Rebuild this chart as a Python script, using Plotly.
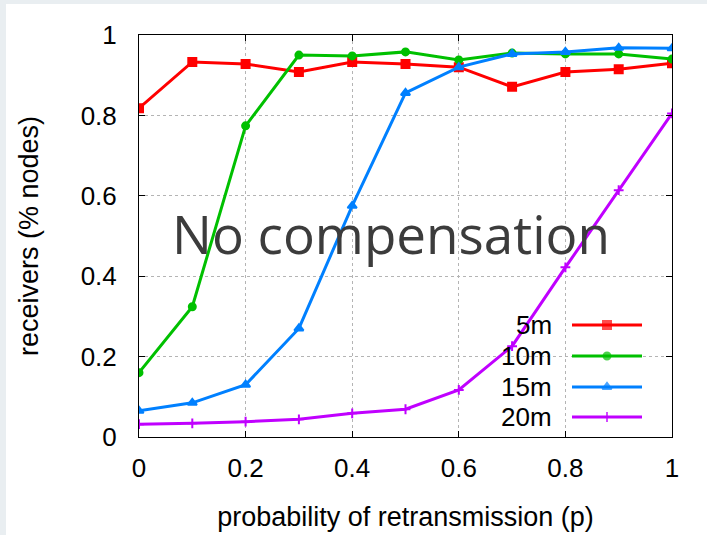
import plotly.graph_objects as go

p = [0, 0.1, 0.2, 0.3, 0.4, 0.5, 0.6, 0.7, 0.8, 0.9, 1.0]
r5 = [0.818, 0.933, 0.928, 0.908, 0.933, 0.928, 0.92, 0.871, 0.908, 0.915, 0.93]
r10 = [0.16, 0.324, 0.774, 0.95, 0.948, 0.958, 0.938, 0.955, 0.953, 0.953, 0.94]
r15 = [0.065, 0.085, 0.13, 0.27, 0.575, 0.856, 0.92, 0.953, 0.958, 0.968, 0.967]
r20 = [0.032, 0.034, 0.038, 0.044, 0.059, 0.069, 0.117, 0.226, 0.422, 0.614, 0.805]
series_names = ["5m", "10m", "15m", "20m"]
colors = ["#ff0000", "#00c000", "#0080ff", "#c000ff"]
symbols = ["square", "circle", "triangle-up", "cross-thin"]
tick_vals = [0, 0.2, 0.4, 0.6, 0.8, 1]
tick_text = ["0", "0.2", "0.4", "0.6", "0.8", "1"]

FONT = "Liberation Sans, Arial, sans-serif"
sizes = {"square": 8, "circle": 7, "triangle-up": 8, "cross-thin": 7}

fig = go.Figure()
for name, ys, c, s in zip(series_names, [r5, r10, r15, r20], colors, symbols):
    fig.add_trace(go.Scatter(
        x=p, y=ys, mode="lines+markers", name=name, showlegend=False,
        line=dict(color=c, width=3),
        marker=dict(color=c, symbol=s, size=sizes[s], line=dict(color=c, width=2)),
    ))

# custom legend (text left of sample) on an overlay axis in pixel units
L, R, T, B = 139, 672, 35, 437
leg_y = [325, 356, 387, 417]
for name, c, s, yy in zip(series_names, colors, symbols, leg_y):
    fig.add_trace(go.Scatter(
        x=[572, 607, 642], y=[yy, yy, yy], xaxis="x2", yaxis="y2",
        mode="lines+markers", showlegend=False, hoverinfo="skip",
        line=dict(color=c, width=3),
        marker=dict(color=c, symbol=s, size=[0, sizes[s], 0], line=dict(color=c, width=2)),
    ))
    fig.add_annotation(x=554, y=yy, xref="x2", yref="y2", text=name, showarrow=False,
                       xanchor="right", yanchor="middle",
                       font=dict(family=FONT, size=26, color="#000000"))

fig.add_annotation(x=391, y=233, xref="x2", yref="y2", text="No compensation",
                   showarrow=False, xanchor="center", yanchor="middle",
                   font=dict(family="Open Sans", size=53, color="#3c3c3c"))

axis_common = dict(
    showline=True, linecolor="#000000", linewidth=1, mirror="ticks",
    ticks="inside", ticklen=6, tickcolor="#000000",
    showgrid=True, gridcolor="#b4b4b4", griddash="dot", gridwidth=1,
    zeroline=False, tickfont=dict(family=FONT, size=26, color="#000000"),
    automargin=False,
)
fig.update_layout(
    width=707, height=535,
    margin=dict(l=L, r=707 - R, t=T, b=535 - B),
    paper_bgcolor="#e9eef1", plot_bgcolor="#ffffff",
    xaxis=dict(range=[0, 1], tickvals=tick_vals, ticktext=tick_text,
               ticklabelstandoff=8,
               title=dict(text="probability of retransmission (p)", standoff=24,
                          font=dict(family=FONT, size=27, color="#000000")),
               **axis_common),
    yaxis=dict(range=[0, 1], tickvals=tick_vals, ticktext=tick_text,
               ticklabelstandoff=16,
               title=dict(text="receivers (% nodes)", standoff=34,
                          font=dict(family=FONT, size=27, color="#000000")),
               **axis_common),
    xaxis2=dict(overlaying="x", range=[L, R], visible=False, fixedrange=True),
    yaxis2=dict(overlaying="y", range=[B, T], visible=False, fixedrange=True),
    shapes=[dict(type="rect", xref="paper", yref="paper", layer="below",
                 x0=(6 - L) / (R - L), x1=(707 - L) / (R - L) + 0.01,
                 y0=(B - 540) / (B - T), y1=(B - 4) / (B - T),
                 fillcolor="#ffffff", line=dict(width=0))],
)
fig.write_html("out.html")
